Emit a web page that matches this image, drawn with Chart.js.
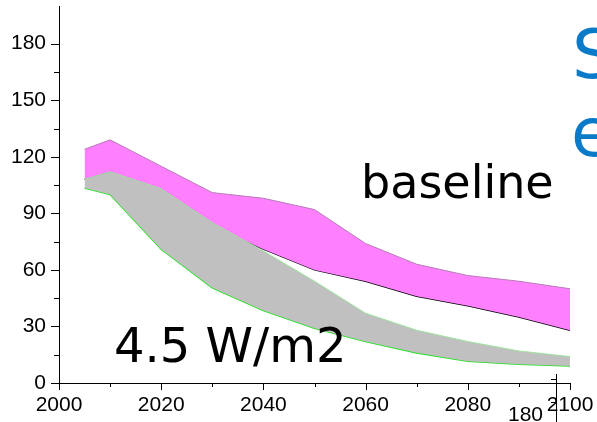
<!DOCTYPE html>
<html>
<head>
<meta charset="utf-8">
<script src="https://cdn.jsdelivr.net/npm/chart.js@4/dist/chart.umd.min.js"></script>
<style>
  body { margin: 0; background: #fff; }
  canvas { display: block; }
</style>
</head>
<body>
<canvas id="emissions" width="597" height="422"></canvas>
<script>
// years on the x axis
const years = [2005, 2010, 2020, 2030, 2040, 2050, 2060, 2070, 2080, 2090, 2100];

// baseline scenario range
const baselineHigh = [124, 129, 115, 101, 98, 92, 74, 63, 57, 54, 50];
const baselineLow  = [108, 112, 99, 83, 71, 60, 54, 46, 41, 35, 28];

// 4.5 W/m2 scenario range
const rcpHigh = [108, 112, 103, 85, 70, 54, 37, 28, 22, 17, 14];
const rcpLow  = [103.5, 100, 71, 50.5, 38.5, 29, 22, 16, 11.5, 10, 9];

const yLabelStep = 30;
const xLabelStep = 20;

function pts(vals) {
    return years.map((yr, i) => ({x: yr, y: vals[i]}));
}

// outward tick marks, longer on labelled ticks
const tickMarks = {
    id: 'tickMarks',
    afterDraw(chart) {
        const ctx = chart.ctx;
        const xs = chart.scales.x, ys = chart.scales.y;
        ctx.save();
        ctx.strokeStyle = '#000';
        ctx.lineWidth = 1;
        ctx.beginPath();
        xs.ticks.forEach(t => {
            const px = Math.round(xs.getPixelForValue(t.value)) + 0.5;
            const len = t.value % xLabelStep === 0 ? 7 : 4;
            ctx.moveTo(px, xs.top);
            ctx.lineTo(px, xs.top + len);
        });
        ys.ticks.forEach(t => {
            if (t.value % 15 !== 0) return;
            const py = Math.round(ys.getPixelForValue(t.value)) + 0.5;
            const len = t.value % yLabelStep === 0 ? 8 : 5;
            ctx.moveTo(ys.right, py);
            ctx.lineTo(ys.right - len, py);
        });
        ctx.stroke();

        // text labels on the plot
        ctx.fillStyle = '#000';
        ctx.textBaseline = 'alphabetic';
        ctx.font = '46px "DejaVu Sans"';
        ctx.fillText('baseline', 361, 198);
        ctx.font = '48px "DejaVu Sans"';
        ctx.fillText('4.5 W/m2', 114, 362);

        ctx.fillStyle = '#0a7bc9';
        ctx.font = '68px "DejaVu Sans"';
        ctx.fillText('S', 572, 78);
        ctx.fillText('e', 571, 156);

        // edge of the neighbouring panel
        ctx.fillStyle = '#000';
        ctx.font = '21px "Liberation Sans"';
        ctx.fillText('180', 508, 421);
        ctx.beginPath();
        ctx.moveTo(556.5, 374);
        ctx.lineTo(556.5, 422);
        ctx.moveTo(551, 379.5);
        ctx.lineTo(556, 379.5);
        ctx.moveTo(551, 402.5);
        ctx.lineTo(556, 402.5);
        ctx.stroke();
        ctx.restore();
    }
};

new Chart(document.getElementById('emissions'), {
    type: 'line',
    data: {
        datasets: [
            {
                label: '4.5 W/m2 high',
                data: pts(rcpHigh),
                borderColor: '#9ee39e',
                borderWidth: 1,
                backgroundColor: '#c0c0c0',
                fill: '+1'
            },
            {
                label: '4.5 W/m2 low',
                data: pts(rcpLow),
                borderColor: '#1fe01f',
                borderWidth: 1.6,
                fill: false
            },
            {
                label: 'baseline high',
                data: pts(baselineHigh),
                borderColor: '#b77bb7',
                borderWidth: 1,
                backgroundColor: '#ff80ff',
                fill: '+1'
            },
            {
                label: 'baseline low',
                data: pts(baselineLow),
                borderColor: '#000',
                borderWidth: 1.4,
                fill: false
            }
        ]
    },
    options: {
        responsive: false,
        animation: false,
        devicePixelRatio: 1,
        layout: { padding: { top: 6, right: 27, left: 0, bottom: 0 } },
        elements: { point: { radius: 0 }, line: { tension: 0 } },
        plugins: { legend: { display: false }, tooltip: { enabled: false } },
        scales: {
            x: {
                type: 'linear',
                min: 2000,
                max: 2100,
                afterFit: s => { s.height = 39; s.paddingLeft = 0; s.paddingRight = 0; },
                grid: { display: false, drawTicks: true, tickLength: 7 },
                border: { display: true, color: '#000', width: 1 },
                ticks: {
                    stepSize: 10,
                    autoSkip: false,
                    maxRotation: 0,
                    padding: 3,
                    color: '#000',
                    font: { family: 'Liberation Sans', size: 21 },
                    callback: v => (v % xLabelStep === 0 ? String(v) : '')
                }
            },
            y: {
                min: 0,
                max: 200,
                afterFit: s => { s.width = 59; s.paddingTop = 0; s.paddingBottom = 0; },
                grid: { display: false, drawTicks: true, tickLength: 8 },
                border: { display: true, color: '#000', width: 1 },
                ticks: {
                    stepSize: 15,
                    autoSkip: false,
                    padding: 5,
                    color: '#000',
                    font: { family: 'Liberation Sans', size: 21 },
                    callback: v => (v % yLabelStep === 0 && v <= 180 ? String(v) : '')
                }
            }
        }
    },
    plugins: [tickMarks]
});
</script>
</body>
</html>
